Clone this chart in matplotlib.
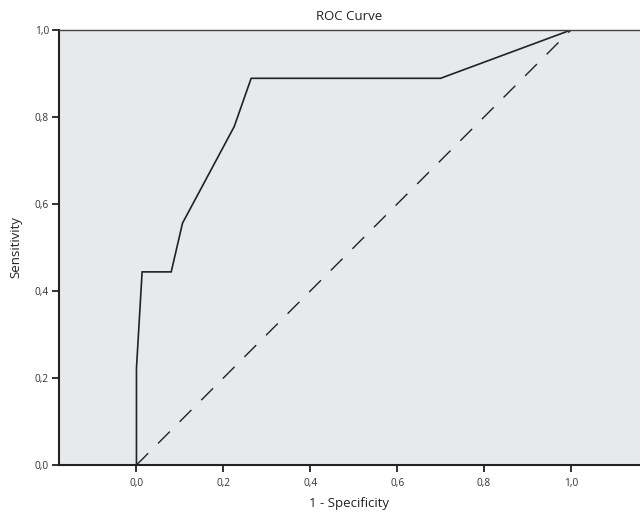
import matplotlib
matplotlib.use("Agg")
import matplotlib.pyplot as plt
from matplotlib.ticker import FuncFormatter

# ROC points
fpr = [0.0, 0.0, 0.013, 0.080, 0.106, 0.225, 0.264, 0.700, 1.0]
tpr = [0.0, 0.222, 0.444, 0.444, 0.556, 0.778, 0.889, 0.889, 1.0]
ref = [0.0, 1.0]
ticks = [0.0, 0.2, 0.4, 0.6, 0.8, 1.0]

plt.rcParams['font.family'] = ['Open Sans', 'DejaVu Sans']

fig = plt.figure(figsize=(6.4, 5.14), dpi=100)
ax = fig.add_axes([0.0917, 0.0953, 0.9083, 0.8463])
ax.set_facecolor('#e8e9eb')

ax.plot(fpr, tpr, color='#222222', lw=1.2, solid_joinstyle='miter')
ax.plot(ref, ref, color='#222222', lw=1.0, dashes=(12, 10))

ax.set_xlim(-0.179, 1.159)
ax.set_ylim(0, 1)
ax.set_xticks(ticks)
ax.set_yticks(ticks)
fmt = FuncFormatter(lambda v, p: f"{v:.1f}".replace('.', ','))
ax.xaxis.set_major_formatter(fmt)
ax.yaxis.set_major_formatter(fmt)
ax.tick_params(axis='both', direction='out', length=5, width=1.3,
               labelsize=7.3, colors='#222222', labelcolor='#333333')
ax.tick_params(axis='x', pad=4)
ax.tick_params(axis='y', pad=2)

for s in ['left', 'bottom']:
    ax.spines[s].set_linewidth(1.5)
    ax.spines[s].set_color('#222222')
ax.spines['top'].set_linewidth(1.0)
ax.spines['top'].set_color('#444444')
ax.spines['right'].set_visible(False)

ax.set_title('ROC Curve', fontsize=9.5, color='#222222', pad=7)
ax.set_xlabel('1 - Specificity', fontsize=9.5, color='#222222', labelpad=6)
ax.set_ylabel('Sensitivity', fontsize=9.5, color='#222222', labelpad=9)

fig.savefig('out.png', dpi=100)
